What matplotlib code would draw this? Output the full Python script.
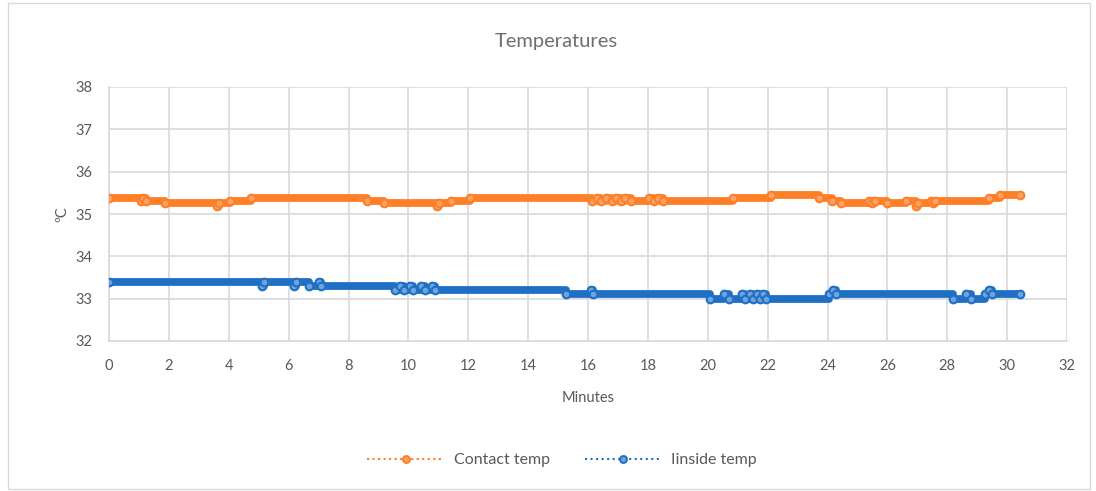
import matplotlib.pyplot as plt
import numpy as np
from matplotlib.lines import Line2D
from matplotlib.patches import Rectangle

plt.rcParams['font.family'] = ['Lato', 'DejaVu Sans']

# readings where the value changes (minutes, degC); last entry is the final reading
contact_t = [0.0, 1.06, 1.15, 1.23, 1.88, 3.62, 3.68, 4.05, 4.75, 8.63, 9.2, 10.95, 11.02,
             11.42, 12.05, 16.15, 16.3, 16.45, 16.6, 16.8, 16.95, 17.1, 17.25, 17.45, 18.05,
             18.2, 18.35, 18.5, 20.84, 22.1, 23.72, 24.15, 24.45, 25.4, 25.5, 25.6, 25.98,
             26.62, 26.95, 27.02, 27.45, 27.52, 27.6, 29.4, 29.75, 30.43]
contact_v = [35.375, 35.3125, 35.375, 35.3125, 35.25, 35.1875, 35.25, 35.3125, 35.375,
             35.3125, 35.25, 35.1875, 35.25, 35.3125, 35.375, 35.3125, 35.375, 35.3125,
             35.375, 35.3125, 35.375, 35.3125, 35.375, 35.3125, 35.375, 35.3125, 35.375,
             35.3125, 35.375, 35.4375, 35.375, 35.3125, 35.25, 35.3125, 35.25, 35.3125,
             35.25, 35.3125, 35.1875, 35.25, 35.3125, 35.25, 35.3125, 35.375, 35.4375, 35.4375]

inside_t = [0.0, 5.1, 5.17, 6.18, 6.25, 6.68, 7.0, 7.08, 9.55, 9.72, 9.85, 10.05, 10.14,
            10.42, 10.55, 10.78, 10.88, 15.28, 16.1, 16.17, 20.07, 20.55, 20.7, 21.15, 21.25,
            21.4, 21.5, 21.65, 21.75, 21.85, 21.95, 24.05, 24.2, 24.28, 28.2, 28.62, 28.8,
            29.25, 29.4, 29.48, 30.43]
inside_v = [33.4, 33.3, 33.4, 33.3, 33.4, 33.3, 33.4, 33.3, 33.2, 33.3, 33.2, 33.3, 33.2,
            33.3, 33.2, 33.3, 33.2, 33.1, 33.2, 33.1, 33.0, 33.1, 33.0, 33.1, 33.0, 33.1,
            33.0, 33.1, 33.0, 33.1, 33.0, 33.1, 33.2, 33.1, 33.0, 33.1, 33.0, 33.1, 33.2,
            33.1, 33.1]

orange = '#FF7F27'
blue = '#1F70C4'
grey = '#595959'
gridc = '#D9D9D9'

fig = plt.figure(figsize=(10.96, 4.91), dpi=100)
ax = fig.add_axes([109/1096, 1-341/491, (1067-109)/1096, (341-87)/491])

for t, v, c, light in [(contact_t, contact_v, orange, '#FBA46A'),
                       (inside_t, inside_v, blue, '#6FA3DC')]:
    ax.step(t, v, where='post', color=c, lw=5.6, solid_capstyle='round',
            solid_joinstyle='round', zorder=3)
    ax.plot(t, v, ls='none', marker='o', ms=5.5, mfc=light, mec=c, mew=1.5, zorder=4)

ax.set_xlim(0, 32)
ax.set_ylim(32, 38)
ax.set_xticks(np.arange(0, 33, 2))
ax.set_yticks(np.arange(32, 39, 1))
ax.grid(True, color=gridc, lw=1.2)
ax.set_axisbelow(True)
for s in ['top', 'right']:
    ax.spines[s].set_visible(False)
for s in ['left', 'bottom']:
    ax.spines[s].set_color(gridc)
    ax.spines[s].set_linewidth(1.2)
ax.tick_params(length=0, labelsize=10.5, colors=grey)
ax.tick_params(axis='x', pad=13)
ax.tick_params(axis='y', pad=12)

ax.set_xlabel('Minutes', fontsize=10.5, color=grey, labelpad=13)
ax.set_ylabel('ºC', fontsize=10.5, color=grey, labelpad=4)
fig.text(0.508, 1-42/491, 'Temperatures', ha='center', va='center', fontsize=14.5,
         color='#6F6F6F')

handles = [Line2D([], [], color=orange, ls=':', lw=1.5, marker='o', ms=5, mfc='#FBA46A', mec=orange, mew=1.4),
           Line2D([], [], color=blue, ls=':', lw=1.5, marker='o', ms=5, mfc='#6FA3DC', mec=blue, mew=1.4)]
leg = fig.legend(handles, ['Contact temp', 'Iinside temp'], loc='center', ncol=2,
                 bbox_to_anchor=(0.513, 1-460/491), frameon=False, handlelength=4.8,
                 columnspacing=2.2, handletextpad=0.6, fontsize=11.5)
for txt in leg.get_texts():
    txt.set_color(grey)

fig.patches.append(Rectangle((8/1096, 2/491), 1082/1096, 486/491, transform=fig.transFigure,
                             fill=False, edgecolor=gridc, lw=1))

fig.savefig('out.png', dpi=100)
